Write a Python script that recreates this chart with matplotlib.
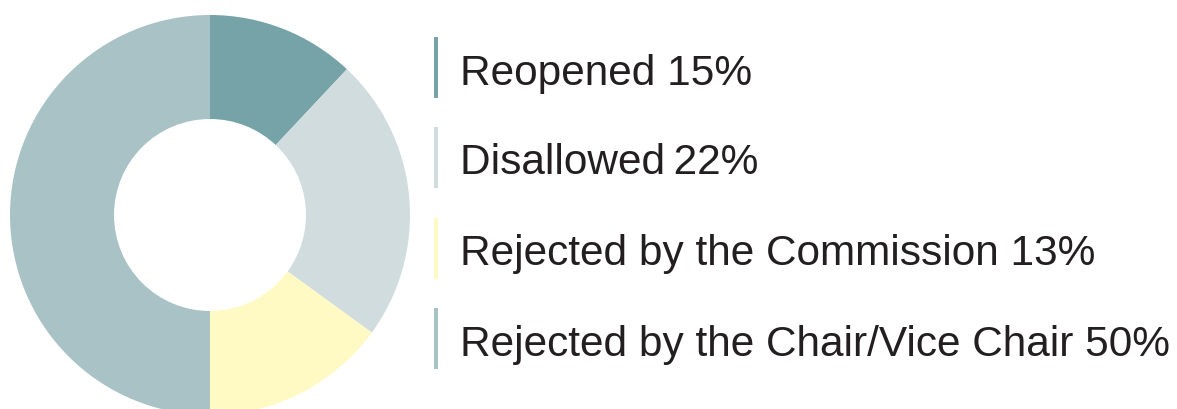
import matplotlib
matplotlib.use("Agg")
import matplotlib.pyplot as plt
from matplotlib.patches import Rectangle

categories = ["Reopened", "Disallowed", "Rejected by the Commission", "Rejected by the Chair/Vice Chair"]
slice_values = [12, 23, 15, 50]          # shares as drawn in the donut
label_pcts = [15, 22, 13, 50]            # percentages printed in the legend
colors = ["#76A3A8", "#D0DCDE", "#FFF9C4", "#A8C2C6"]
label_sep = [" ", "\u2009", " ", " "]

W, H = 1177, 410
fig = plt.figure(figsize=(W / 100, H / 100), dpi=100)
fig.patch.set_facecolor("white")

# donut axes: centre (210, 216) px from top, radius 200 px
cx, cy, r = 210, 216, 200
ax = fig.add_axes([(cx - r) / W, (H - cy - r) / H, 2 * r / W, 2 * r / H])
ax.pie(slice_values, colors=colors, startangle=90, counterclock=False,
       radius=1.0, wedgeprops=dict(width=0.52, edgecolor="none", linewidth=0))
ax.set_xlim(-1, 1)
ax.set_ylim(-1, 1)
ax.set_aspect("equal")
ax.axis("off")

# legend
bar_centers = [68, 158, 249, 339.5]
bar_h = 61
for cat, pct, col, yc, sep in zip(categories, label_pcts, colors, bar_centers, label_sep):
    fig.patches.append(Rectangle((433.5 / W, (H - yc - bar_h / 2) / H), 4.5 / W, bar_h / H,
                                 transform=fig.transFigure, facecolor=col, edgecolor="none"))
    fig.text(460 / W, (H - (yc + 16.5)) / H, f"{cat}{sep}{pct}%", fontsize=30.5,
             family=["Liberation Sans", "DejaVu Sans"], color="#231F20",
             ha="left", va="baseline")

fig.savefig("out.png", dpi=100, facecolor="white")
